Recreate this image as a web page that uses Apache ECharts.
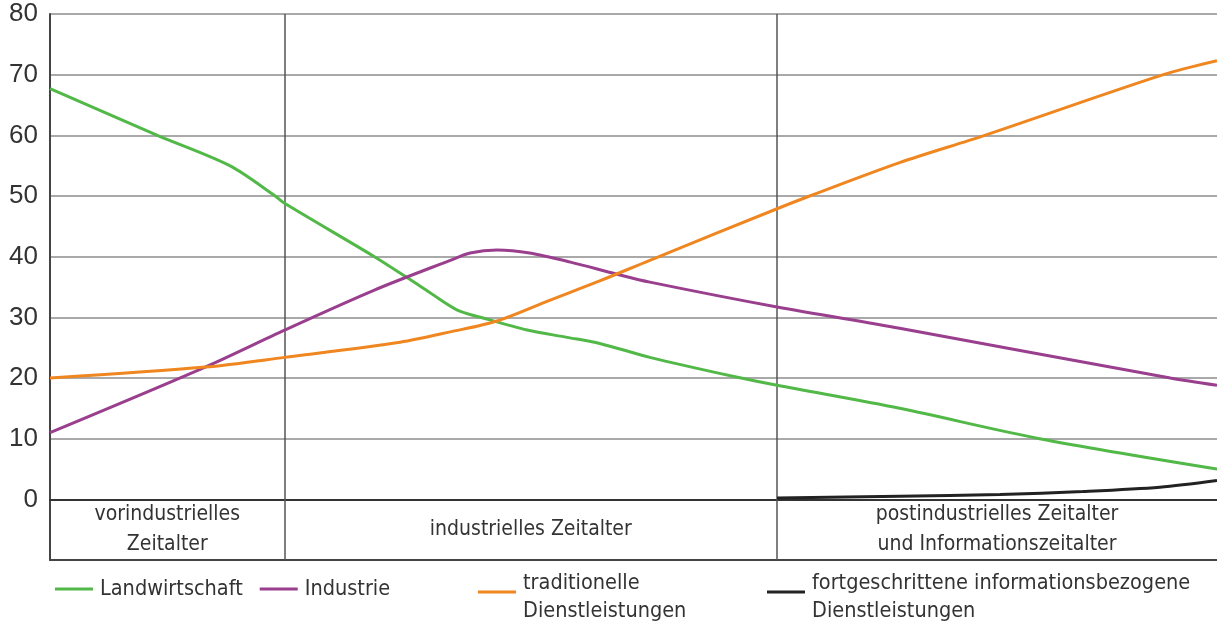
<!DOCTYPE html>
<html>
<head>
<meta charset="utf-8">
<script src="https://cdn.jsdelivr.net/npm/echarts@6/dist/echarts.min.js"></script>
<style>
html,body{margin:0;padding:0;background:#fff;}
#chart{width:1217px;height:629px;}
</style>
</head>
<body>
<div id="chart"></div>
<script>
// time axis: 0 = left edge, 100 = right edge (arbitrary time units)
const yTicks = [-10, 0, 10, 20, 30, 40, 50, 60, 70, 80];
const eraBounds = [0, 20.1, 62.3, 100];
const eraLabels = ['vorindustrielles\nZeitalter', 'industrielles Zeitalter', 'postindustrielles Zeitalter\nund Informationszeitalter'];

const seriesNames = ['Landwirtschaft', 'Industrie', 'traditionelle Dienstleistungen', 'fortgeschrittene informationsbezogene Dienstleistungen'];
const legendLabels = ['Landwirtschaft', 'Industrie', 'traditionelle\nDienstleistungen', 'fortgeschrittene informationsbezogene\nDienstleistungen'];

const landwirtschaft = [[0,67.7],[9.2,60],[15.4,55],[19.3,50],[20.1,48.8],[27.8,40],[30.8,36.3],[32.6,34],[34.9,31.2],[37.1,29.9],[40.9,27.9],[44.3,26.7],[47.1,25.7],[51.4,23.4],[58.7,20.2],[62.3,18.8],[72.8,15],[84.8,10],[100,5]];
const industrie = [[0,11],[13.3,21.8],[20.1,27.9],[27.8,34.5],[34.3,39.4],[36,40.6],[38.3,41.1],[41.1,40.6],[44.6,39.1],[48.6,37.1],[51.4,35.8],[62.3,31.7],[72.8,28.2],[96,20],[100,18.8]];
const dienstleistungen = [[0,20],[13.3,21.8],[20.1,23.4],[30,25.9],[34.3,27.6],[38.3,29.4],[42.8,32.8],[47.1,36.0],[51.4,39.4],[62.3,47.9],[65.1,50],[72.8,55.5],[80.1,60],[95.4,70],[100,72.3]];
const information = [[62.3,0.2],[72.8,0.5],[81.4,0.8],[88.5,1.3],[95.1,2.0],[100,3.1]];

const colors = ['#52b848', '#9a3f8e', '#f0861f', '#222222'];
const FONT = '"DejaVu Sans Condensed","Liberation Sans",sans-serif';
const TICKFONT = '"Liberation Sans",Arial,sans-serif';

const chart = echarts.init(document.getElementById('chart'));

function lineSeries(name, data, color) {
  return {
    name: name, type: 'line', data: data, smooth: 0.3, showSymbol: false,
    lineStyle: {color: color, width: 3}, itemStyle: {color: color}, z: 5
  };
}

const series = [
  lineSeries(seriesNames[0], landwirtschaft, colors[0]),
  lineSeries(seriesNames[1], industrie, colors[1]),
  lineSeries(seriesNames[2], dienstleistungen, colors[2]),
  lineSeries(seriesNames[3], information, colors[3]),
  {
    name: 'eras', type: 'line', data: [], silent: true,
    markLine: {
      silent: true, symbol: 'none', label: {show: false},
      lineStyle: {color: '#555', width: 1.5, type: 'solid'},
      data: eraBounds.slice(1, -1).map(b => ({xAxis: b}))
    },
    markArea: {
      silent: true,
      itemStyle: {color: 'rgba(0,0,0,0)'},
      label: {show: true, position: 'inside', color: '#333', fontSize: 21, fontFamily: FONT, lineHeight: 30},
      data: eraLabels.map((l, i) => [{name: l, xAxis: eraBounds[i], yAxis: -10}, {xAxis: eraBounds[i+1], yAxis: 0}])
    }
  }
];

function legendFmt(name) { return legendLabels[seriesNames.indexOf(name)]; }
const legendBase = {
  orient: 'horizontal', icon: 'rect', itemWidth: 38, itemHeight: 3, itemGap: 17,
  formatter: legendFmt, selectedMode: false, padding: 5,
  textStyle: {fontSize: 21.5, fontFamily: FONT, color: '#333', lineHeight: 28, padding: [0,0,0,2]}
};
// raised legend mark for the two-line entries (bar on top of a 13px tall icon box)
const raisedIcon = 'path://M0,0h38v3h-38zM0,12.98h38v0.02h-38z';

chart.setOption({
  animation: false,
  backgroundColor: '#fff',
  grid: {left: 50, right: 0, top: 14, bottom: 69},
  legend: [
    Object.assign({}, legendBase, {data: [seriesNames[0], seriesNames[1]], left: 50, top: 570}),
    Object.assign({}, legendBase, {data: [seriesNames[2]], left: 473, top: 564, icon: raisedIcon, itemHeight: 13}),
    Object.assign({}, legendBase, {data: [seriesNames[3]], left: 762, top: 564, icon: raisedIcon, itemHeight: 13})
  ],
  xAxis: [
    {type: 'value', min: 0, max: 100, axisLabel: {show: false}, axisTick: {show: false}, splitLine: {show: false},
     axisLine: {show: true, onZero: false, lineStyle: {color: '#444', width: 2}}},
    {type: 'value', position: 'top', min: 0, max: 100, axisLabel: {show: false}, axisTick: {show: false}, splitLine: {show: false},
     axisLine: {show: true, lineStyle: {color: '#333', width: 2}}}
  ],
  yAxis: {
    type: 'value', min: yTicks[0], max: yTicks[yTicks.length-1], interval: 10,
    axisLine: {show: true, lineStyle: {color: '#444', width: 2}},
    axisTick: {show: false},
    axisLabel: {fontSize: 26, fontFamily: TICKFONT, color: '#333', margin: 12,
      formatter: v => (v < 0 ? '' : String(v))},
    splitLine: {show: true, lineStyle: {color: '#8c8c8c', width: 1.5}}
  },
  series: series
});
</script>
</body>
</html>
